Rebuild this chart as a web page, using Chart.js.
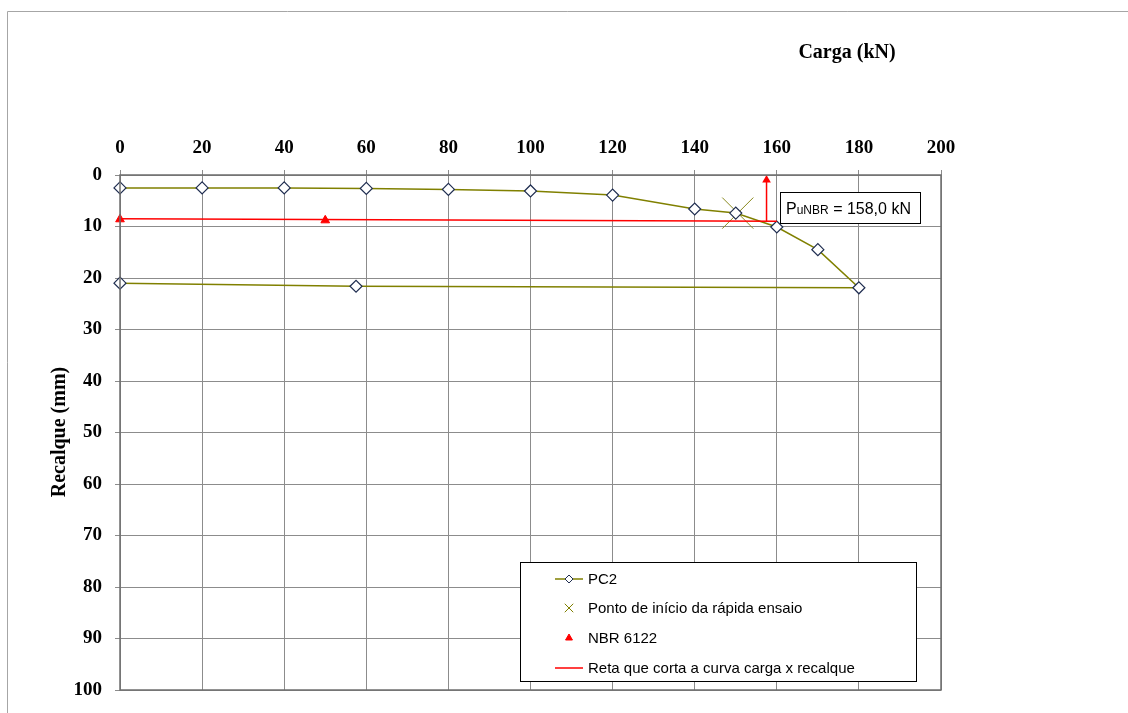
<!DOCTYPE html>
<html lang="pt">
<head>
    <meta charset="utf-8"/>
    <title>PC2 - Carga x Recalque</title>
    <script src="https://cdn.jsdelivr.net/npm/chart.js"></script>
    <style>
        body { margin: 0; background: #fff; }
        #wrap { width: 1128px; height: 713px; }
    </style>
</head>
<body>
<div id="wrap"><canvas id="chart" width="1128" height="713"></canvas></div>
<script>
    // PC2 load test (carga em kN, recalque em mm)
    const pc2Carga = [0, 20, 40, 60, 80, 100, 120, 140, 150, 160, 170, 180, 57.5, 0];
    const pc2Recalque = [2.5, 2.5, 2.5, 2.6, 2.8, 3.1, 3.9, 6.6, 7.4, 10.1, 14.5, 21.9, 21.6, 21.0];

    const pontoCarga = [150.5];
    const pontoRecalque = [7.4];

    const nbrCarga = [0, 50];
    const nbrRecalque = [8.6, 8.8];

    const retaCarga = [0, 160];
    const retaRecalque = [8.5, 9.0];

    const rupturaCarga = [157.5, 157.5];
    const rupturaRecalque = [9.0, 0.97];

    const xTicks = [0, 20, 40, 60, 80, 100, 120, 140, 160, 180, 200];
    const yTicks = [0, 10, 20, 30, 40, 50, 60, 70, 80, 90, 100];

    const legendLabels = ['PC2', 'Ponto de início da rápida ensaio', 'NBR 6122', 'Reta que corta a curva carga x recalque'];
    const annotationText = ['P', 'uNBR', ' = 158,0 kN'];

    const OLIVE = '#808000';
    const toPts = (xs, ys) => xs.map((x, i) => ({x: x, y: ys[i]}));

    const serif = '"Liberation Serif", "Times New Roman", serif';
    const sans = '"Liberation Sans", Arial, sans-serif';

    const extras = {
        id: 'extras',
        beforeDraw(chart) {
            const ctx = chart.ctx;
            ctx.save();
            ctx.fillStyle = '#fff';
            ctx.fillRect(0, 0, chart.width, chart.height);
            // outer frame
            ctx.strokeStyle = '#a6a6a6';
            ctx.lineWidth = 1;
            ctx.beginPath();
            ctx.moveTo(7.5, 713);
            ctx.lineTo(7.5, 11.5);
            ctx.lineTo(1128, 11.5);
            ctx.stroke();
            ctx.restore();
        },
        afterDatasetsDraw(chart) {
            const ctx = chart.ctx;
            const a = chart.chartArea;
            const h = Chart.helpers;
            ctx.save();
            // plot border
            ctx.strokeStyle = '#6e6e6e';
            ctx.lineWidth = 1.5;
            ctx.strokeRect(a.left, a.top, a.right - a.left, a.bottom - a.top);

            // axis titles
            ctx.fillStyle = '#000';
            ctx.font = 'bold 20px ' + serif;
            ctx.textAlign = 'center';
            ctx.textBaseline = 'middle';
            ctx.fillText('Carga (kN)', 847, 53);
            ctx.save();
            ctx.translate(60, 432);
            ctx.rotate(-Math.PI / 2);
            ctx.fillText('Recalque (mm)', 0, 0);
            ctx.restore();

            // annotation box
            ctx.fillStyle = '#fff';
            ctx.fillRect(780.5, 192.5, 140, 31);
            ctx.strokeStyle = '#000';
            ctx.lineWidth = 1;
            ctx.strokeRect(780.5, 192.5, 140, 31);
            ctx.fillStyle = '#000';
            ctx.textAlign = 'left';
            ctx.textBaseline = 'alphabetic';
            let tx = 786;
            ctx.font = '16px ' + sans;
            ctx.fillText(annotationText[0], tx, 214);
            tx += ctx.measureText(annotationText[0]).width;
            ctx.font = '12px ' + sans;
            ctx.fillText(annotationText[1], tx, 214);
            tx += ctx.measureText(annotationText[1]).width;
            ctx.font = '16px ' + sans;
            ctx.fillText(annotationText[2], tx, 214);

            // legend
            ctx.fillStyle = '#fff';
            ctx.fillRect(520.5, 562.5, 396, 119);
            ctx.strokeStyle = '#000';
            ctx.strokeRect(520.5, 562.5, 396, 119);
            const rows = [579, 608, 638, 668];
            const sx = 569;
            ctx.font = '15px ' + sans;
            ctx.textBaseline = 'middle';
            ctx.fillStyle = '#000';
            legendLabels.forEach((t, i) => ctx.fillText(t, 588, rows[i] + 1));

            ctx.lineWidth = 1.5;
            ctx.strokeStyle = OLIVE;
            ctx.beginPath(); ctx.moveTo(555, rows[0]); ctx.lineTo(583, rows[0]); ctx.stroke();
            ctx.fillStyle = '#fff';
            ctx.strokeStyle = '#1f2d50';
            ctx.lineWidth = 1;
            h.drawPoint(ctx, {pointStyle: 'rectRot', radius: 4, rotation: 0, borderWidth: 1}, sx, rows[0]);

            ctx.strokeStyle = OLIVE;
            h.drawPoint(ctx, {pointStyle: 'crossRot', radius: 6, rotation: 0, borderWidth: 1}, sx, rows[1]);

            ctx.fillStyle = '#ff0000';
            ctx.strokeStyle = '#ff0000';
            h.drawPoint(ctx, {pointStyle: 'triangle', radius: 4, rotation: 0, borderWidth: 1}, sx, rows[2]);

            ctx.lineWidth = 1.5;
            ctx.beginPath(); ctx.moveTo(555, rows[3]); ctx.lineTo(583, rows[3]); ctx.stroke();
            ctx.restore();
        }
    };

    new Chart(document.getElementById('chart'), {
        type: 'scatter',
        data: {
            datasets: [
                {
                    label: 'Reta que corta a curva carga x recalque',
                    data: toPts(retaCarga, retaRecalque),
                    showLine: true,
                    borderColor: '#ff0000',
                    borderWidth: 1.5,
                    pointRadius: 0
                },
                {
                    label: 'ruptura',
                    data: toPts(rupturaCarga, rupturaRecalque),
                    showLine: true,
                    borderColor: '#ff0000',
                    backgroundColor: '#ff0000',
                    borderWidth: 1.5,
                    pointStyle: 'triangle',
                    pointRadius: [0, 5],
                    pointBorderWidth: 0,
                    clip: false
                },
                {
                    label: 'PC2',
                    data: toPts(pc2Carga, pc2Recalque),
                    showLine: true,
                    borderColor: OLIVE,
                    borderWidth: 1.5,
                    pointStyle: 'rectRot',
                    pointRadius: 6,
                    pointBackgroundColor: '#fff',
                    pointBorderColor: '#1f2d50',
                    pointBorderWidth: 1.2,
                    clip: false
                },
                {
                    label: 'Ponto de início da rápida ensaio',
                    data: toPts(pontoCarga, pontoRecalque),
                    pointStyle: 'crossRot',
                    pointRadius: 22,
                    pointBorderColor: '#8a8a20',
                    pointBorderWidth: 1
                },
                {
                    label: 'NBR 6122',
                    data: toPts(nbrCarga, nbrRecalque),
                    pointStyle: 'triangle',
                    pointRadius: 5,
                    pointBackgroundColor: '#ff0000',
                    pointBorderColor: '#ff0000',
                    clip: false
                }
            ]
        },
        options: {
            responsive: false,
            animation: false,
            layout: {padding: {left: 0, top: 0, right: 187, bottom: 19}},
            plugins: {legend: {display: false}, tooltip: {enabled: false}},
            scales: {
                x: {
                    type: 'linear',
                    position: 'top',
                    min: 0, max: 200,
                    afterBuildTicks: s => { s.ticks = xTicks.map(v => ({value: v})); },
                    afterFit: s => { s.height = 175; s.paddingLeft = 0; s.paddingRight = 0; },
                    grid: {color: '#8c8c8c', tickLength: 5},
                    border: {display: false},
                    ticks: {color: '#000', padding: 11, maxRotation: 0, font: {family: serif, size: 19, weight: 'bold'}}
                },
                y: {
                    reverse: true,
                    min: 0, max: 100,
                    afterBuildTicks: s => { s.ticks = yTicks.map(v => ({value: v})); },
                    afterFit: s => { s.width = 120; s.paddingTop = 0; s.paddingBottom = 0; },
                    grid: {color: '#8c8c8c', tickLength: 5},
                    border: {display: false},
                    ticks: {color: '#000', padding: 13, font: {family: serif, size: 19, weight: 'bold'}}
                }
            }
        },
        plugins: [extras]
    });
</script>
</body>
</html>
